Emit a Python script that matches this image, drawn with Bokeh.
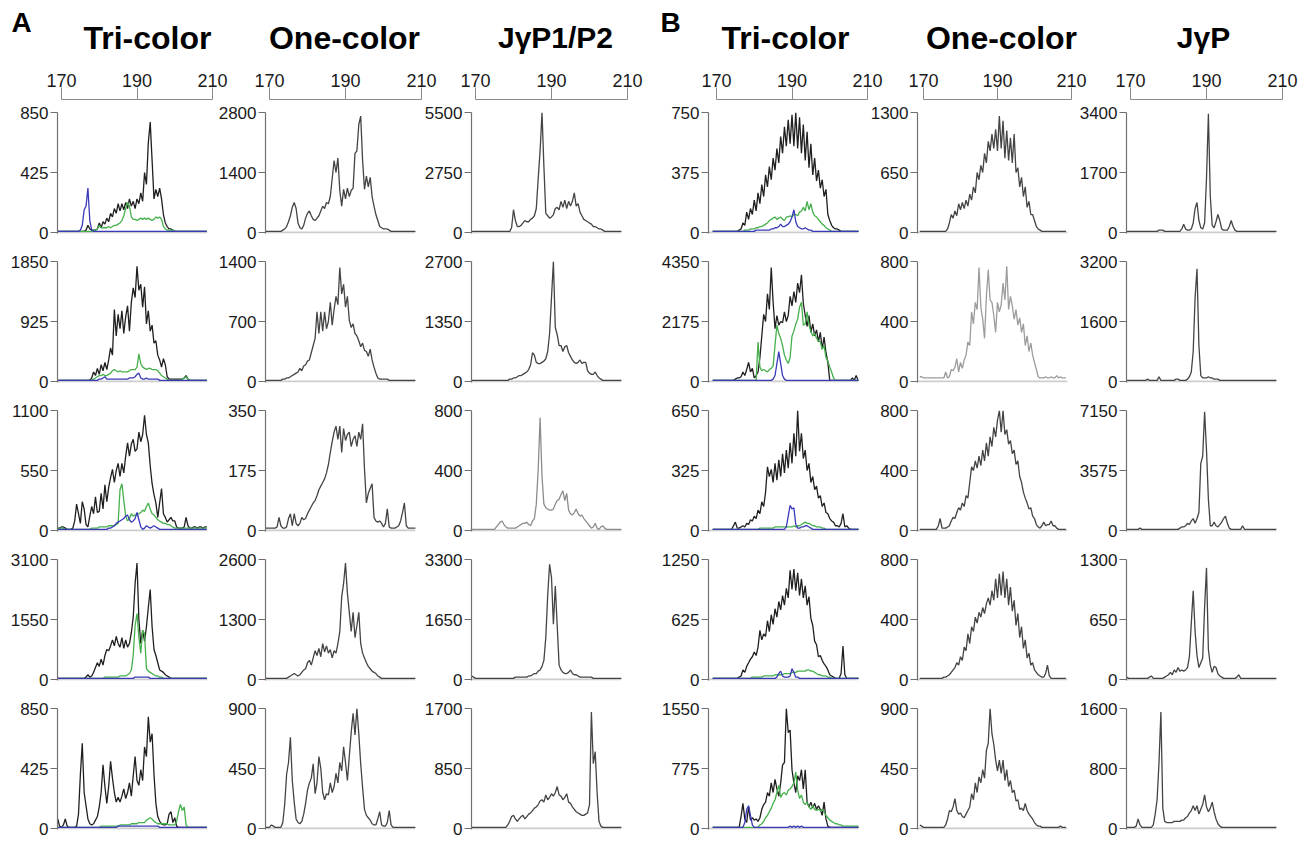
from bokeh.plotting import figure
from bokeh.models import Range1d, FixedTicker, LinearAxis, Span, BasicTickFormatter
from bokeh.layouts import column, row
from bokeh.embed import file_html
from bokeh.resources import INLINE
from bokeh.core.properties import value

# ------------------------------------------------------------------ data
# fragment-size grid (bp); every trace value below is a % of its panel's y-axis maximum
BP = [169.0 + 0.5 * i for i in range(80)]
TOP_TICKS = [170, 190, 210]
TITLES_A = ["Tri-color", "One-color", "J\u03b3P1/P2"]
TITLES_B = ["Tri-color", "One-color", "J\u03b3P"]

A_TRI_MAX = [850, 1850, 1100, 3100, 850]
A_ONE_MAX = [2800, 1400, 350, 2600, 900]
A_JGP_MAX = [5500, 2700, 800, 3300, 1700]
B_TRI_MAX = [750, 4350, 650, 1250, 1550]
B_ONE_MAX = [1300, 800, 800, 800, 900]
B_JGP_MAX = [3400, 3200, 7150, 1300, 1600]

A_TRI1_BLACK = [1,1,1,1,1,1,1,1,1,1, 1,1,1,1,1,2,6,3,2,2, 2,3,8,4,9,7,12,9,16,13, 20,16,24,18,24,19,25,20,28,22,
                26,20,28,24,33,26,50,40,75,92, 60,28,36,30,37,28,15,8,5,3, 3,2,1,1,1,1,1,1,1,1, 1,1,1,1,1,1,1,1,1,1]
A_TRI1_GREEN = [1,1,1,1,1,1,1,1,1,1, 1,1,1,1,1,1,1,1,1,2, 2,3,6,4,4,4,4,5,4,5, 6,6,7,8,10,14,20,25,22,13,
                11,11,10,11,12,11,12,11,12,11, 10,11,13,12,13,11,5,3,2,2, 2,2,1,1,1,1,1,1,1,1, 1,1,1,1,1,1,1,1,1,1]
A_TRI1_BLUE = [1,1,1,1,1,1,1,1,1,1, 1,1,2,6,19,22,37,10,2,1, 1,1,1,1,1,1,1,1,1,1, 1,1,1,1,1,1,1,1,1,1,
               1,1,1,1,1,1,1,1,1,1, 1,1,1,1,1,1,1,1,1,1, 1,1,1,1,1,1,1,1,1,1, 1,1,1,1,1,1,1,1,1,1]

A_TRI2_BLACK = [1,1,1,1,1,1,1,1,1,1, 1,1,1,1,1,1,1,1,3,8, 5,11,6,14,9,16,10,18,28,22, 60,38,56,44,59,40,54,63,42,66,
                78,70,96,76,81,62,79,48,59,42, 47,32,34,22,18,12,19,14,4,2, 2,2,2,2,2,2,2,3,5,2, 1,1,1,1,1,1,1,1,1,1]
A_TRI2_GREEN = [1,1,1,1,1,1,1,1,1,1, 1,1,1,1,1,1,1,1,1,2, 3,4,5,5,6,5,5,6,7,9, 10,9,8,9,8,8,8,8,9,10,
                10,10,12,23,15,12,11,10,11,11, 10,10,10,9,7,5,4,3,2,1, 1,1,1,1,1,1,2,3,4,2, 1,1,1,1,1,1,1,1,1,1]
A_TRI2_BLUE = [1,1,1,1,1,1,1,1,1,1, 1,1,1,1,1,1,1,1,1,1, 1,1,2,2,3,4,2,2,2,2, 2,2,2,2,2,2,2,2,3,3,
               3,4,6,7,3,2,2,3,2,2, 2,2,2,2,1,1,1,1,1,1, 1,1,1,1,1,1,1,1,1,1, 1,1,1,1,1,1,1,1,1,1]

A_TRI3_BLACK = [2,2,3,3,2,1,1,1,2,8, 22,14,6,24,18,5,3,12,20,14, 28,15,16,31,18,38,24,36,44,51, 40,50,56,45,56,48,62,73,62,72,
                76,66,68,82,74,80,96,80,73,54, 39,30,23,11,23,35,14,11,7,9, 11,8,8,3,2,2,2,3,11,4, 2,2,3,3,2,3,3,2,3,3]
A_TRI3_GREEN = [2,2,2,2,1,1,1,1,1,1, 1,1,1,1,1,1,1,1,2,2, 2,2,3,3,3,3,3,4,4,4, 4,5,6,34,39,25,12,8,10,14,
                12,13,13,14,15,17,16,20,23,18, 14,13,11,9,8,7,6,6,5,5, 4,3,2,2,2,2,2,2,2,2, 2,2,2,2,2,2,2,2,2,2]
A_TRI3_BLUE = [1,1,1,1,1,1,1,1,1,1, 1,1,1,1,1,1,1,1,1,1, 1,1,1,1,1,1,1,2,2,3, 4,6,7,8,9,10,12,13,9,7,
               8,10,15,9,3,1,2,4,3,2, 3,4,3,2,1,1,1,1,1,1, 1,1,1,1,1,1,1,1,1,1, 1,1,1,1,1,1,1,1,1,1]

A_TRI4_BLACK = [1,1,1,1,1,1,1,1,1,1, 1,1,1,1,1,2,4,2,3,6, 10,14,11,17,12,20,25,24,28,33, 28,36,30,27,35,26,33,27,30,39,
                52,80,97,50,30,41,32,44,60,75, 44,25,20,14,8,7,6,4,3,2, 1,1,1,1,1,1,1,1,1,1, 1,1,1,1,1,1,1,1,1,1]
A_TRI4_GREEN = [1,1,1,1,1,1,1,1,1,1, 1,1,1,1,1,1,1,1,1,1, 1,1,1,1,1,2,2,2,2,2, 2,2,2,3,3,3,3,4,5,8,
                20,45,55,35,22,41,38,9,7,6, 5,4,3,3,2,2,1,1,1,1, 1,1,1,1,1,1,1,1,1,1, 1,1,1,1,1,1,1,1,1,1]
A_TRI4_BLUE = [1,1,1,1,1,1,1,1,1,1, 1,1,1,1,1,1,1,1,1,1, 1,1,1,1,1,1,1,1,1,1, 1,1,1,1,1,1,1,1,1,1,
               1,2,2,2,2,2,2,2,2,1, 1,1,1,1,1,1,1,1,1,1, 1,1,1,1,1,1,1,1,1,1, 1,1,1,1,1,1,1,1,1,1]

A_TRI5_BLACK = [8,2,1,3,8,2,1,1,1,1, 2,12,45,71,30,19,8,4,3,4, 7,10,18,30,53,35,21,35,56,42, 30,22,26,22,27,33,25,30,38,27,
                44,60,40,36,49,40,68,60,93,72, 79,45,21,10,6,4,3,3,4,12, 14,5,9,2,1,1,1,1,1,1, 1,1,1,1,1,1,1,1,1,1]
A_TRI5_GREEN = [1,1,1,1,1,1,1,1,1,1, 1,1,1,1,1,1,1,1,1,1, 1,1,1,2,2,2,2,2,2,2, 2,2,2,3,3,3,3,3,3,4,
                4,4,4,5,5,5,5,7,8,9, 8,6,5,4,4,4,4,4,4,3, 3,3,3,6,14,20,15,18,3,1, 1,1,1,1,1,1,1,1,1,1]
A_TRI5_BLUE = [1,1,1,1,1,1,1,1,1,1, 1,1,1,1,1,1,1,1,1,1, 1,1,1,1,1,1,1,1,1,1, 1,1,2,2,2,2,2,2,2,2,
               2,2,2,2,2,2,2,2,2,2, 2,2,2,2,1,1,1,1,1,1, 1,1,1,1,1,1,1,1,1,1, 1,1,1,1,1,1,1,1,1,1]

A_ONE1 = [1,1,1,1,1,1,1,1,1,2, 3,5,9,14,21,25,20,8,4,3, 6,12,16,18,14,11,10,12,14,18, 22,20,25,24,30,45,60,50,62,35,
          22,36,28,37,30,35,37,66,68,90, 97,60,36,47,38,46,30,22,15,10, 5,4,3,3,3,2,1,1,1,1, 1,1,1,1,1,1,1,1,1,1]
A_ONE2 = [1,1,1,1,1,1,1,1,1,2, 2,3,3,4,5,6,7,8,11,9, 13,14,17,18,24,30,36,58,40,58, 42,58,44,50,66,47,60,71,64,95,
          73,81,62,71,51,45,48,40,38,34, 29,32,26,25,21,27,18,12,7,3, 2,2,2,2,2,1,1,1,1,1, 1,1,1,1,1,1,1,1,1,1]
A_ONE3 = [2,2,2,2,2,2,3,11,4,2, 2,3,10,14,4,14,6,4,6,11, 9,10,14,17,20,23,25,29,34,37, 40,43,48,55,65,74,82,87,76,87,
          65,85,75,80,82,70,76,79,70,82, 76,89,51,23,31,35,39,11,8,7, 8,6,3,6,18,3,2,2,2,3, 4,8,15,23,4,2,2,2,2,2]
A_ONE4 = [1,1,1,1,1,1,1,1,1,1, 1,1,2,3,4,5,4,3,4,6, 8,9,14,16,12,18,24,20,26,19, 30,23,28,22,25,18,24,22,30,40,
          69,80,97,72,56,40,56,35,45,56, 30,22,18,14,11,9,7,6,5,3, 2,1,1,1,1,1,1,1,1,1, 1,1,1,1,1,1,1,1,1,1]
A_ONE5 = [1,1,1,3,2,1,1,1,1,5, 20,45,55,76,40,22,8,5,4,6, 12,21,32,38,42,54,29,38,60,50, 30,24,29,28,38,30,35,46,38,55,
          48,68,55,40,60,80,96,78,100,79, 54,34,16,11,9,7,4,3,3,8, 14,3,2,2,5,15,3,1,1,1, 1,1,1,1,1,1,1,1,1,1]

A_JGP1 = [1,1,1,1,1,1,1,1,1,1, 1,1,1,1,1,1,1,1,1,1, 1,4,19,10,5,5,6,8,10,9, 9,11,12,14,20,45,68,100,55,16,
          14,12,13,15,20,21,19,26,21,27, 20,26,22,26,33,22,24,17,14,11, 10,9,8,7,5,5,4,3,3,2, 1,1,1,1,1,1,1,1,1,1]
A_JGP2 = [1,1,1,1,1,1,1,1,1,1, 1,1,1,1,1,1,1,1,1,1, 2,2,3,3,4,5,5,6,7,8, 10,14,24,22,16,15,15,16,17,19,
          25,40,70,100,45,39,30,30,25,29, 30,24,21,18,16,15,16,18,15,16, 16,9,7,6,6,8,5,3,2,1, 1,1,1,1,1,1,1,1,1,1]
A_JGP3 = [1,1,1,1,1,1,1,1,1,1, 1,1,1,3,5,7,8,5,3,2, 2,2,2,2,3,4,5,6,6,7, 5,4,8,10,22,51,94,45,22,19,
          18,17,17,18,22,25,26,30,33,25, 31,17,14,13,15,18,14,12,13,10, 8,6,4,2,3,6,2,1,3,4, 2,1,1,1,1,1,1,1,1,1]
A_JGP4 = [3,2,1,1,1,1,1,1,1,1, 1,1,1,1,1,1,1,1,1,1, 1,1,1,2,2,2,2,2,2,2, 3,3,4,5,5,7,8,11,16,35,
          70,96,85,46,78,45,12,8,6,5, 5,6,8,5,4,4,3,2,2,2, 2,2,2,2,1,1,1,1,1,1, 1,1,1,1,1,1,1,1,1,1]
A_JGP5 = [1,1,1,1,1,1,1,1,1,1, 1,1,1,1,1,1,1,1,1,3, 6,10,11,8,6,8,10,11,8,10, 12,13,15,17,18,20,23,24,22,28,
          24,26,29,27,30,35,28,27,24,26, 29,22,21,18,16,14,13,12,11,11, 12,13,20,97,54,64,30,6,2,1, 1,1,1,1,1,1,1,1,1,1]

B_TRI1_BLACK = [1,1,1,1,1,1,1,1,1,1, 1,1,1,1,2,3,8,6,17,11, 20,15,27,18,33,24,40,30,48,38, 55,44,62,52,70,58,80,66,88,72,
                94,74,98,72,100,70,96,66,90,60, 84,54,74,48,62,43,52,37,44,30, 36,15,10,6,4,3,3,2,1,1, 1,1,1,1,1,1,1,1,1,1]
B_TRI1_GREEN = [1,1,1,1,1,1,1,1,1,1, 1,1,1,1,1,1,1,2,2,2, 3,3,3,4,4,5,5,6,7,8, 10,11,12,13,11,12,13,11,10,13,
                13,14,13,15,15,14,17,18,21,18, 26,19,24,17,14,13,11,9,7,6, 4,3,2,1,1,1,1,1,1,1, 1,1,1,1,1,1,1,1,1,1]
B_TRI1_BLUE = [1,1,1,1,1,1,1,1,1,1, 1,1,1,1,1,1,1,1,1,1, 1,1,1,2,2,2,2,2,2,2, 2,3,3,4,4,5,7,5,5,6,
               7,9,13,19,9,5,4,3,3,4, 3,2,2,1,1,1,1,1,1,1, 1,1,1,1,1,1,1,1,1,1, 1,1,1,1,1,1,1,1,1,1]

B_TRI2_BLACK = [1,1,1,1,1,1,1,1,1,1, 1,1,2,3,3,4,8,5,10,16, 8,11,3,5,8,20,38,56,50,73, 60,95,66,44,55,47,50,49,58,50,
                55,71,63,75,66,82,74,89,65,55, 46,55,41,48,38,43,33,41,27,37, 24,16,1,1,1,1,1,1,1,1, 1,1,1,1,3,1,5,1,1,1]
B_TRI2_GREEN = [1,1,1,1,1,1,1,1,1,1, 1,1,1,1,1,1,1,1,1,1, 1,1,1,1,33,12,9,10,9,8, 10,11,13,30,47,40,36,30,22,18,
                15,20,38,42,48,52,62,66,47,48, 58,47,42,38,40,36,34,33,27,30, 20,17,12,8,3,1,1,1,1,1, 1,1,1,1,1,1,1,1,1,1]
B_TRI2_BLUE = [1,1,1,1,1,1,1,1,1,1, 1,1,1,1,1,1,1,1,1,1, 1,1,1,1,1,1,1,1,1,1, 1,1,2,5,15,25,15,5,2,1,
               1,1,1,1,1,1,1,1,1,1, 1,1,1,1,1,1,1,1,1,1, 1,1,1,1,1,1,1,1,1,1, 1,1,1,1,1,1,1,1,1,1]

B_TRI3_BLACK = [1,1,1,1,1,1,1,1,1,1, 1,4,7,2,2,3,4,3,6,5, 9,8,12,10,17,14,24,20,32,53, 45,51,40,56,42,59,45,64,48,67,
                52,73,56,81,62,100,66,81,60,67, 50,56,40,45,34,37,27,29,20,23, 15,14,10,8,7,4,4,3,6,14, 3,4,2,1,1,1,1,1,1,1]
B_TRI3_GREEN = [1,1,1,1,1,1,1,1,1,1, 1,1,1,1,1,1,1,1,1,1, 1,1,1,1,1,2,2,2,2,2, 2,2,2,3,3,3,3,3,3,3,
                3,3,3,4,3,4,4,5,6,7, 6,6,5,4,4,3,3,3,2,2, 1,1,1,1,1,1,1,1,1,1, 1,1,1,1,1,1,1,1,1,1]
B_TRI3_BLUE = [1,1,1,1,1,1,1,1,1,1, 1,1,1,1,1,1,1,1,1,1, 1,1,1,1,1,1,1,1,1,1, 1,1,1,1,1,1,1,1,1,3,
               12,21,18,19,5,2,2,3,3,4, 4,3,2,1,1,1,1,1,1,1, 1,1,1,1,1,1,1,1,1,1, 1,1,1,1,1,1,1,1,1,1]

B_TRI4_BLACK = [1,1,1,1,1,1,1,1,1,1, 1,1,1,1,2,3,8,6,11,14, 17,19,23,20,27,41,33,38,36,49, 40,54,46,59,52,65,58,70,62,76,
                68,91,75,92,74,89,70,84,68,78, 62,69,51,45,32,29,19,20,16,13, 11,8,4,3,2,1,1,1,5,28, 4,1,1,1,1,1,1,1,1,1]
B_TRI4_GREEN = [1,1,1,1,1,1,1,1,1,1, 1,1,1,1,1,1,1,1,1,1, 1,2,2,2,2,2,2,3,3,3, 3,3,3,4,4,4,4,4,5,5,
                5,5,6,6,6,7,7,7,7,7, 8,8,7,7,6,5,4,4,3,3, 3,2,2,1,1,1,1,1,1,1, 1,1,1,1,1,1,1,1,1,1]
B_TRI4_BLUE = [1,1,1,1,1,1,1,1,1,1, 1,1,1,1,1,1,1,1,1,1, 1,1,1,1,1,1,1,1,1,1, 1,1,1,1,2,5,7,3,2,2,
               2,3,9,6,2,2,1,1,1,1, 1,1,1,1,1,1,1,1,1,1, 1,1,1,1,1,1,1,1,1,1, 1,1,1,1,1,1,1,1,1,1]

B_TRI5_BLACK = [1,1,1,1,1,1,1,1,1,1, 1,1,1,1,1,10,21,8,5,18, 7,9,7,8,6,9,16,20,22,30, 27,38,30,41,33,27,38,53,55,100,
                80,82,49,38,30,44,40,49,33,49, 22,18,22,17,21,16,19,16,11,22, 8,2,1,1,1,1,1,1,1,1, 1,1,1,1,1,1,1,1,1,1]
B_TRI5_GREEN = [1,1,1,1,1,1,1,1,1,1, 1,1,1,1,1,1,1,1,1,1, 1,1,1,1,1,3,4,6,9,11, 14,17,21,24,30,36,26,29,30,28,
                32,33,35,38,47,32,25,28,22,20, 22,18,16,19,16,15,16,15,16,14, 11,9,7,6,5,4,4,3,3,2, 2,2,2,2,2,2,2,2,2,2]
B_TRI5_BLUE = [1,1,1,1,1,1,1,1,1,1, 1,1,1,1,1,1,1,5,16,19, 11,3,1,1,1,1,1,1,1,1, 1,1,1,1,1,1,1,1,1,1,
               1,2,1,2,1,2,1,2,1,1, 1,1,1,1,1,1,1,1,1,1, 1,1,1,1,1,1,1,1,1,1, 1,1,1,1,1,1,1,1,1,1]

B_ONE1 = [1,1,1,1,1,1,1,1,1,1, 1,1,1,1,1,3,8,15,12,18, 14,24,19,25,20,27,22,32,27,38, 33,50,44,56,50,66,58,76,68,82,
          70,86,68,97,70,93,62,85,60,79, 58,82,50,54,38,46,30,38,21,26, 15,15,10,5,3,2,1,1,1,1, 1,1,1,1,1,1,1,1,1,1]
B_ONE2 = [4,4,3,3,3,3,3,3,3,3, 3,3,3,3,8,3,4,10,9,12, 19,8,16,11,18,22,33,30,58,48, 66,60,95,62,52,36,71,93,68,66,
          55,41,66,58,64,82,68,96,60,71, 63,52,60,47,53,41,48,30,38,25, 32,22,16,10,4,3,3,3,4,3, 3,4,3,3,5,3,4,3,3,3]
B_ONE3 = [1,1,1,1,1,1,1,1,1,1, 4,10,2,2,2,3,4,8,11,10, 15,19,17,23,20,29,27,40,53,50, 58,52,62,54,67,58,73,62,78,70,
          86,78,92,100,82,100,80,84,72,75, 64,67,55,58,45,40,32,27,23,18, 19,12,10,5,3,2,4,7,4,5, 5,8,4,4,2,1,1,1,1,1]
B_ONE4 = [1,1,1,1,1,1,1,1,1,1, 1,1,1,2,2,3,4,6,8,10, 14,12,19,16,27,24,38,30,44,40, 52,47,56,52,60,55,63,68,62,74,
          66,84,68,88,70,90,68,84,62,77, 57,66,45,55,35,44,26,33,18,22, 12,14,8,6,4,3,2,2,5,12, 3,1,1,1,1,1,1,1,1,1]
B_ONE5 = [3,2,1,1,1,1,1,1,1,1, 1,1,1,1,3,8,15,14,18,25, 15,12,13,10,9,12,15,18,29,24, 38,30,43,38,49,42,65,71,100,79,
          70,57,48,57,46,57,40,49,35,40, 30,32,23,24,16,17,15,21,15,12, 10,8,5,3,2,2,1,1,1,1, 1,1,1,1,1,1,2,1,1,1]

B_JGP1 = [1,1,1,1,1,1,1,1,1,1, 1,1,1,1,1,1,1,2,2,2, 1,1,1,1,1,1,1,1,1,3, 7,3,2,2,3,8,20,25,10,4,
          3,8,45,99,30,6,4,9,15,10, 3,2,2,2,5,10,5,2,1,1, 1,1,1,1,1,1,1,1,1,1, 1,1,1,1,1,1,1,1,1,1]
B_JGP2 = [1,1,1,1,1,1,1,1,1,1, 1,2,1,1,1,1,1,4,1,1, 1,1,1,1,1,1,2,2,1,1, 1,1,2,4,8,25,70,94,30,5,
          3,3,3,4,3,3,2,2,2,1, 1,1,1,1,1,1,1,1,1,1, 1,1,1,1,1,1,1,1,1,1, 1,1,1,1,1,1,1,1,1,1]
B_JGP3 = [1,1,1,1,1,1,1,2,1,1, 1,1,1,1,1,1,1,1,1,1, 1,1,1,1,1,1,1,1,2,3, 3,4,6,5,8,10,6,10,15,56,
          62,99,67,26,4,4,7,4,3,5, 7,10,12,6,2,1,1,1,1,1, 1,4,1,1,1,1,1,1,1,1, 1,1,1,1,1,1,1,1,1,1]
B_JGP4 = [2,1,1,1,1,1,1,1,1,1, 1,1,2,3,1,1,1,1,1,1, 2,3,4,6,4,8,6,10,7,8, 7,8,10,19,47,74,40,20,10,14,
          18,60,93,25,12,6,11,10,5,3, 2,1,1,1,1,1,1,1,2,4, 1,1,1,1,1,1,1,1,1,1, 1,1,1,1,1,1,1,1,1,1]
B_JGP5 = [1,1,1,1,1,2,8,3,1,1, 1,1,1,1,3,12,24,55,97,17, 6,5,5,5,5,6,6,6,6,7, 7,9,10,13,15,19,15,19,12,16,
          20,28,18,14,17,22,14,8,4,2, 1,1,1,1,1,1,1,1,1,1, 1,1,1,1,1,1,1,1,1,1, 1,1,1,1,1,1,1,1,1,1]

# ------------------------------------------------------------------ styling / layout
FONT = "Liberation Sans"
BLACK, GREEN, BLUE = "#1f1f1f", "#45b04c", "#3a3ab8"
GRAY_TRACE = "#444444"
AXIS_COL = "#707070"

PAGE_W = 1300
FRAME_W, FRAME_H = 150, 121
FRAME_LEFT = [57, 265, 471, 708, 917, 1126]     # page x of each column's y axis
TICK170_PX = [61, 269, 475, 716, 923, 1130]     # page x of the 170 bp tick
SCALE = [3.775, 3.8, 3.8, 3.775, 3.7, 3.8]      # px per bp
X0 = [170 - (t - f) / s for t, f, s in zip(TICK170_PX, FRAME_LEFT, SCALE)]

HEAD_H, AXIS_H, AXIS_TOP = 60, 42, 39
ROW_TB, ROW_BB, LAST_BB = 10, 18, 11

COLUMNS = [
    (A_TRI_MAX, [[A_TRI1_BLACK, A_TRI1_GREEN, A_TRI1_BLUE], [A_TRI2_BLACK, A_TRI2_GREEN, A_TRI2_BLUE],
                 [A_TRI3_BLACK, A_TRI3_GREEN, A_TRI3_BLUE], [A_TRI4_BLACK, A_TRI4_GREEN, A_TRI4_BLUE],
                 [A_TRI5_BLACK, A_TRI5_GREEN, A_TRI5_BLUE]]),
    (A_ONE_MAX, [[A_ONE1], [A_ONE2], [A_ONE3], [A_ONE4], [A_ONE5]]),
    (A_JGP_MAX, [[A_JGP1], [A_JGP2], [A_JGP3], [A_JGP4], [A_JGP5]]),
    (B_TRI_MAX, [[B_TRI1_BLACK, B_TRI1_GREEN, B_TRI1_BLUE], [B_TRI2_BLACK, B_TRI2_GREEN, B_TRI2_BLUE],
                 [B_TRI3_BLACK, B_TRI3_GREEN, B_TRI3_BLUE], [B_TRI4_BLACK, B_TRI4_GREEN, B_TRI4_BLUE],
                 [B_TRI5_BLACK, B_TRI5_GREEN, B_TRI5_BLUE]]),
    (B_ONE_MAX, [[B_ONE1], [B_ONE2], [B_ONE3], [B_ONE4], [B_ONE5]]),
    (B_JGP_MAX, [[B_JGP1], [B_JGP2], [B_JGP3], [B_JGP4], [B_JGP5]]),
]
LIGHT = {(2, 2): "#8c8c8c", (4, 1): "#9c9c9c"}


def bare(p):
    p.grid.visible = False
    p.outline_line_color = None
    p.background_fill_color = "white"
    p.border_fill_color = "white"
    return p


def make_panel(c, lb, rb, tb, bb, ymax, traces, colors):
    p = figure(width=lb + FRAME_W + rb, height=tb + FRAME_H + bb, title=None,
               x_range=Range1d(X0[c], X0[c] + FRAME_W / SCALE[c]),
               y_range=Range1d(-0.008 * ymax, ymax),
               x_axis_location=None, y_axis_location="left",
               output_backend="svg", toolbar_location=None,
               min_border_left=lb, min_border_right=rb,
               min_border_top=tb, min_border_bottom=bb)
    bare(p)
    p.add_layout(Span(location=0, dimension="width", line_color="#cdcdcd",
                      line_width=2, level="underlay"))
    for tr, col in zip(traces, colors):
        p.line(BP, [v * ymax / 100.0 for v in tr], line_color=col, line_width=1.3)
    ax = p.yaxis[0]
    ax.ticker = FixedTicker(ticks=[0, ymax // 2, ymax])
    ax.formatter = BasicTickFormatter(use_scientific=False)
    ax.major_tick_out = 7
    ax.major_tick_in = 0
    ax.minor_tick_line_color = None
    ax.axis_line_color = AXIS_COL
    ax.axis_line_width = 1.2
    ax.major_tick_line_color = AXIS_COL
    ax.major_label_text_font = FONT
    ax.major_label_text_font_size = "17px"
    ax.major_label_text_color = "#1a1a1a"
    ax.major_label_standoff = 2
    return p


def make_top_axis(c, lb, fw, rb):
    p = figure(width=lb + fw + rb, height=AXIS_H, title=None,
               x_range=Range1d(X0[c], X0[c] + fw / SCALE[c]), y_range=Range1d(0, 1),
               x_axis_location=None, y_axis_location=None,
               output_backend="svg", toolbar_location=None,
               min_border_left=lb, min_border_right=rb,
               min_border_top=AXIS_TOP, min_border_bottom=0)
    bare(p)
    ax = LinearAxis(bounds=(170, 210), ticker=FixedTicker(ticks=TOP_TICKS),
                    major_tick_out=12, major_tick_in=0,
                    axis_line_color="#8a8a8a", major_tick_line_color="#8a8a8a",
                    minor_tick_line_color=None,
                    major_label_text_font=FONT, major_label_text_font_size="18px",
                    major_label_text_color="#1a1a1a", major_label_standoff=1)
    p.add_layout(ax, "above")
    return p


# header with panel letters and column titles (y measured upward from header bottom)
head = figure(width=PAGE_W, height=HEAD_H, title=None,
              x_range=Range1d(0, PAGE_W), y_range=Range1d(0, HEAD_H),
              x_axis_location=None, y_axis_location=None,
              output_backend="svg", toolbar_location=None,
              min_border_left=0, min_border_right=0, min_border_top=0, min_border_bottom=0)
bare(head)
head.text(x=[11, 660], y=[HEAD_H - 22] * 2, text=["A", "B"], text_font=value(FONT),
          text_font_style="bold", text_font_size="28px", text_color="black",
          text_align="left", text_baseline="alphabetic")
head.text(x=[147, 344, 785, 1001], y=[HEAD_H - 37] * 4,
          text=[TITLES_A[0], TITLES_A[1], TITLES_B[0], TITLES_B[1]],
          text_font=value(FONT), text_font_style="bold", text_font_size="32px",
          text_color="black", text_align="center", text_baseline="alphabetic")
head.text(x=[555, 1203], y=[HEAD_H - 37] * 2, text=[TITLES_A[2], TITLES_B[2]],
          text_font=value(FONT), text_font_style="bold", text_font_size="30px",
          text_color="black", text_align="center", text_baseline="alphabetic")

# top bp axes
axis_figs = []
prev = 0
for c, fl in enumerate(FRAME_LEFT):
    fw = int(round((210.8 - X0[c]) * SCALE[c]))
    rb = 13 if c < 5 else PAGE_W - (fl + fw)
    axis_figs.append(make_top_axis(c, fl - prev, fw, rb))
    prev = fl + fw + rb

# panel rows
rows = []
for r in range(5):
    figs = []
    prev = 0
    for c, fl in enumerate(FRAME_LEFT):
        ymaxes, traces = COLUMNS[c]
        rb = 5 if c < 5 else PAGE_W - (fl + FRAME_W)
        bb = ROW_BB if r < 4 else LAST_BB
        tr = traces[r]
        cols = [BLACK, GREEN, BLUE] if len(tr) == 3 else [LIGHT.get((c, r), GRAY_TRACE)]
        figs.append(make_panel(c, fl - prev, rb, ROW_TB, bb, ymaxes[r], tr, cols))
        prev = fl + FRAME_W + rb
    rows.append(row(*figs, spacing=0))

layout = column(head, row(*axis_figs, spacing=0), *rows, spacing=0)

with open("out.html", "w") as f:
    f.write(file_html(layout, INLINE))
